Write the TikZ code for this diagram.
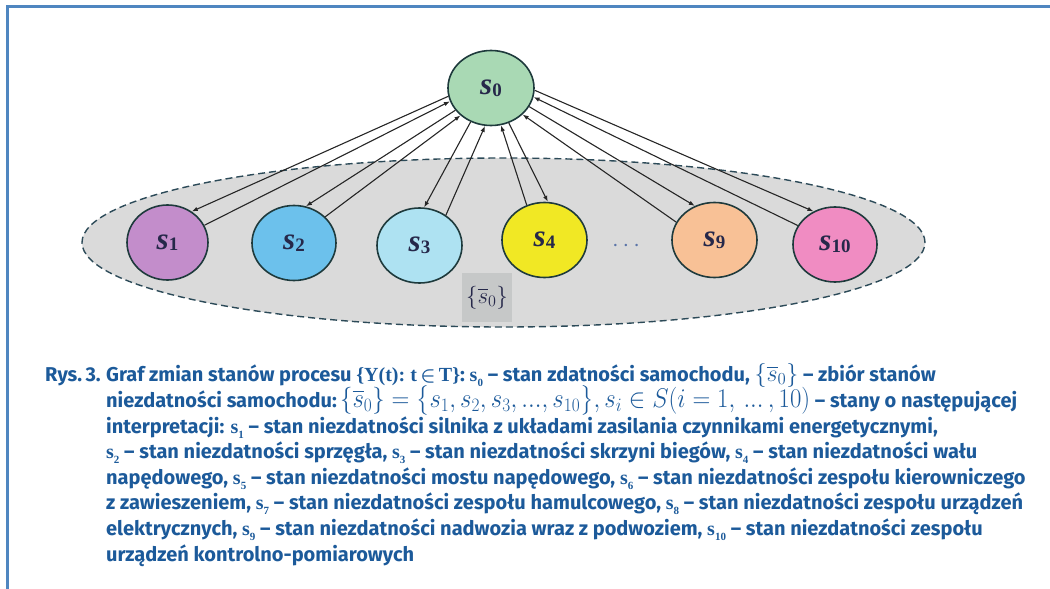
\RequirePackage{fix-cm}
\documentclass[tikz,border=0pt]{standalone}
\usepackage{amsmath}
\usepackage[no-math]{fontspec}
\setmainfont{Fira Sans}
\newfontfamily\tnr{Liberation Serif}
\usetikzlibrary{arrows.meta,shapes.geometric}
\definecolor{capblue}{HTML}{1C5A9A}
\definecolor{frameblue}{HTML}{4F86C0}
\definecolor{nodeline}{HTML}{1E3A3C}
\definecolor{setgray}{HTML}{DADADA}
\definecolor{boxgray}{HTML}{C6C8C8}
\definecolor{dashcol}{HTML}{2C4A58}
\definecolor{labcol}{HTML}{26284A}
\definecolor{cA}{HTML}{A9D9B4}
\definecolor{cB}{HTML}{C38DCB}
\definecolor{cC}{HTML}{6CC1EC}
\definecolor{cD}{HTML}{AEE2F2}
\definecolor{cE}{HTML}{F1E824}
\definecolor{cF}{HTML}{F8C196}
\definecolor{cG}{HTML}{F08CC2}
\definecolor{dotcol}{HTML}{5A74A8}
\newcommand\slab[1]{{\tnr\bfseries\itshape\fontsize{31}{31}\selectfont s}\raisebox{-0.3ex}{\tnr\bfseries\fontsize{19}{19}\selectfont #1}}
\newcommand\sv[1]{{\tnr\bfseries s}\raisebox{-0.55ex}{\tnr\bfseries\fontsize{11}{11}\selectfont #1}}
\begin{document}
\begin{tikzpicture}[x=1pt,y=-1pt,
  st/.style={ellipse,draw=nodeline,line width=1.6pt,inner sep=0pt,minimum width=84pt,minimum height=75pt,text=labcol},
  con/.style={draw=black!85,line width=1.1pt,-{Latex[length=6pt,width=4.5pt]}},
  captext/.style={anchor=base west,inner sep=0pt,text=capblue,font=\bfseries\fontsize{20}{24}\selectfont}]
\useasboundingbox (0,0) rectangle (1050,589);
% frame
\draw[frameblue,line width=2.5pt] (7.5,589) -- (7.5,6.5) -- (1050,6.5);
% state set
\node[ellipse,draw=dashcol,fill=setgray,line width=1.4pt,dash pattern=on 7pt off 4pt,minimum width=843pt,minimum height=169pt,inner sep=0pt] (set) at (503.5,242.5) {};
\node[fill=boxgray,minimum width=50pt,minimum height=49pt,inner sep=0pt,text=labcol,font=\fontsize{23}{23}\selectfont] (setlab) at (487,297.5) {$\{\overline{s}_0\}$};
% states
\node[st,fill=cA,minimum width=86pt] (s0) at (491,88) {\slab{0}};
\node[st,fill=cB,minimum width=81pt] (s1) at (167.5,242.5) {\slab{1}};
\node[st,fill=cC] (s2) at (294,243) {\slab{2}};
\node[st,fill=cD,minimum width=85pt] (s3) at (419.5,245.5) {\slab{3}};
\node[st,fill=cE,minimum width=85pt] (s4) at (544.5,240) {\slab{4}};
\node[st,fill=cF,minimum width=85pt] (s9) at (714.5,240) {\slab{9}};
\node[st,fill=cG] (s10) at (835,244.5) {\slab{10}};
\node[text=dotcol,font=\fontsize{24}{24}\selectfont] (dots) at (628,246) {$\cdots$};
% connectors
\draw[con] (s0.191) -- (s1.52);
\draw[con] (s1.25) -- (s0.198);
\draw[con] (s0.212) -- (s2.72);
\draw[con] (s2.40) -- (s0.222);
\draw[con] (s0.239) -- (s3.83);
\draw[con] (s3.49) -- (s0.261);
\draw[con] (s4.117) -- (s0.285);
\draw[con] (s0.297) -- (s4.85);
\draw[con] (s0.334) -- (s9.120);
\draw[con] (s9.155) -- (s0.320);
\draw[con] (s0.357) -- (s10.123);
\draw[con] (s10.153) -- (s0.348);
% caption
\node[captext] (rys) at (45,381) {Rys.\,3.};
\node[captext] (c1) at (106,381) {Graf zmian stanów procesu {\tnr\{Y(t):~t\,$\boldsymbol{\in}$\,T\}}: \sv{0} – stan zdatności samochodu, {\fontsize{24}{24}\selectfont\mdseries$\{\overline{s}_0\}$} – zbiór stanów};
\node[captext] (c2) at (106,407) {niezdatności samochodu:\,{\mdseries\fontsize{27}{27}\selectfont\resizebox{470pt}{\height}{$\{\overline{s}_0\} = \bigl\{s_1, s_2, s_3,{.}{.}{.}, s_{10}\bigr\}, s_i\in S(i=1,\,{.}{.}{.}\,,10)$}} – stany o następującej};
\node[captext] (c3) at (106,433) {interpretacji: \sv{1} – stan niezdatności silnika z układami zasilania czynnikami energetycznymi,};
\node[captext] (c4) at (106,458) {\sv{2} – stan niezdatności sprzęgła, \sv{3} – stan niezdatności skrzyni biegów, \sv{4} – stan niezdatności wału};
\node[captext] (c5) at (106,484) {napędowego, \sv{5} – stan niezdatności mostu napędowego, \sv{6} – stan niezdatności zespołu kierowniczego};
\node[captext] (c6) at (106,509) {z zawieszeniem, \sv{7} – stan niezdatności zespołu hamulcowego, \sv{8} – stan niezdatności zespołu urządzeń};
\node[captext] (c7) at (106,535) {elektrycznych, \sv{9} – stan niezdatności nadwozia wraz z podwoziem, \sv{10} – stan niezdatności zespołu};
\node[captext] (c8) at (106,561) {urządzeń kontrolno-pomiarowych};
\end{tikzpicture}
\end{document}
